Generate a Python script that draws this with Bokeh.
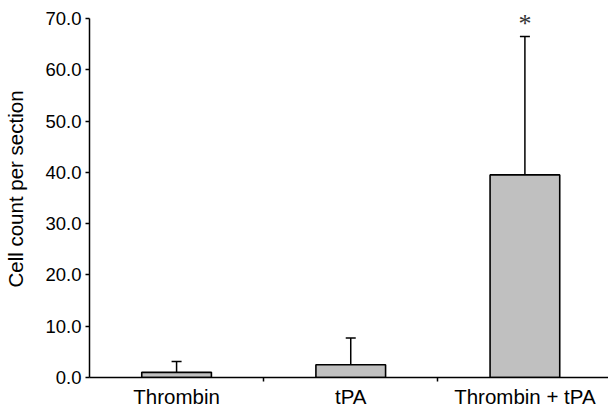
from bokeh.plotting import figure
from bokeh.models import (ColumnDataSource, Range1d, FixedTicker, PrintfTickFormatter,
                          Whisker, TeeHead, LabelSet)
from bokeh.embed import file_html
from bokeh.resources import INLINE

categories = ["Thrombin", "tPA", "Thrombin + tPA"]
means = [1.0, 2.5, 39.5]
sds = [2.1, 5.2, 27.0]
significance = ["", "", "*"]
y_ticks = [0, 10, 20, 30, 40, 50, 60, 70]

xs = [i + 0.5 for i in range(len(categories))]
upper = [m + s for m, s in zip(means, sds)]
src = ColumnDataSource(dict(x=xs, mean=means, upper=upper, sig=significance, cat=categories))

# frame spans the full top; the axis line itself stops at 70
p = figure(width=608, height=410, output_backend="svg", toolbar_location=None,
           x_range=Range1d(0, 2.98), y_range=Range1d(0, 73.5),
           min_border_left=89, min_border_right=0, min_border_top=0, min_border_bottom=33)
p.outline_line_color = None
p.xgrid.visible = False
p.ygrid.visible = False
p.background_fill_color = "white"
p.border_fill_color = "white"

p.vbar(x="x", top="mean", bottom=0, width=0.4, source=src,
       fill_color="#C0C0C0", line_color="black", line_width=1.6)

wh = Whisker(source=src, base="x", lower="mean", upper="upper", dimension="height",
             lower_head=None, upper_head=TeeHead(size=10, line_width=1.5, line_color="black"),
             line_width=1.5, line_color="black")
p.add_layout(wh)

stars = LabelSet(x="x", y="upper", text="sig", source=src, y_offset=13,
                 text_font="Liberation Serif", text_font_size="26px",
                 text_align="center", text_baseline="middle", text_color="#333333")
p.add_layout(stars)

# y axis
ya = p.yaxis[0]
ya.bounds = (0, 70)
ya.ticker = FixedTicker(ticks=y_ticks)
ya.formatter = PrintfTickFormatter(format="%.1f")
ya.axis_label = "Cell count per section"
ya.axis_label_text_font = "Liberation Sans"
ya.axis_label_text_font_size = "20.5px"
ya.axis_label_text_font_style = "normal"
ya.axis_label_text_color = "black"
ya.axis_label_standoff = 15
ya.major_label_text_font = "Liberation Sans"
ya.major_label_text_font_size = "18.5px"
ya.major_label_text_color = "black"
ya.major_tick_out = 4
ya.major_tick_in = 0
ya.minor_tick_out = 0
ya.minor_tick_in = 0
ya.major_label_standoff = 4
ya.axis_line_width = 1.5
ya.axis_line_color = "black"
ya.major_tick_line_color = "black"
ya.major_tick_line_width = 1.5

# x axis
xa = p.xaxis[0]
xa.ticker = FixedTicker(ticks=xs, minor_ticks=[1, 2])
xa.major_label_overrides = {x: c for x, c in zip(xs, categories)}
xa.major_label_text_font = "Liberation Sans"
xa.major_label_text_font_size = "20.5px"
xa.major_label_text_color = "black"
xa.major_tick_out = 0
xa.major_tick_in = 0
xa.minor_tick_out = 4
xa.minor_tick_in = 0
xa.minor_tick_line_color = "black"
xa.minor_tick_line_width = 1.5
xa.major_label_standoff = 3
xa.axis_line_width = 1.5
xa.axis_line_color = "black"

open("out.html", "w").write(file_html(p, INLINE))
